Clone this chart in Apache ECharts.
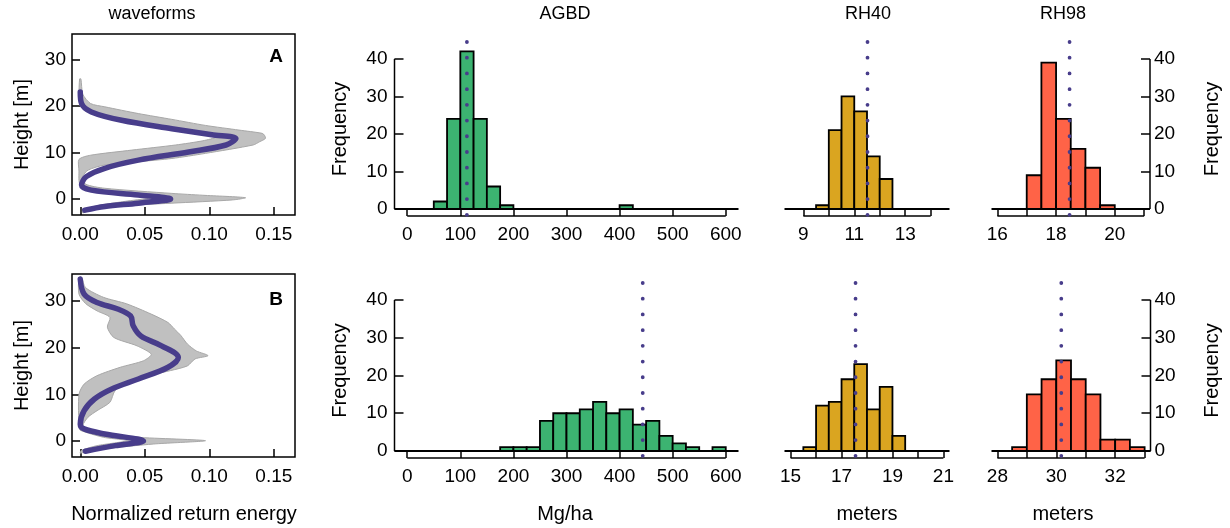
<!DOCTYPE html>
<html><head><meta charset="utf-8">
<script src="https://cdn.jsdelivr.net/npm/echarts@6/dist/echarts.min.js"></script>
<style>html,body{margin:0;padding:0;background:#fff}#c{width:1230px;height:528px}</style>
</head><body><div id="c"></div>
<script>
// ---------- DATA ----------
// Waveform panel A: mean waveform (height m, normalized energy)
const waveA_meanHeight = [-2.4,-1.6,-0.9,0.0,0.86,1.9,3.0,4.8,6.6,8.35,10.1,11.6,13.0,13.8,15.1,16.9,18.7,20.5,23.0];
const waveA_meanEnergy = [0.0035,0.019,0.045,0.070,0.045,0.0086,0.001,0.0047,0.019,0.045,0.084,0.113,0.1206,0.102,0.071,0.032,0.0086,0.001,0.0];
// Waveform panel A: envelope of individual waveforms (closed outline)
const waveA_envHeight = [-3.0,-2.2,-1.6,-0.9,-0.2,0.28,0.8,1.2,2.3,3.2,4.8,6.2,7.3,8.0,8.7,9.8,11.6,12.3,13.0,13.7,14.1,14.8,15.8,17.1,18.35,19.8,20.5,22.5,25.8,
                         25.8,22.0,20.0,19.0,18.0,16.9,15.5,14.1,13.3,12.5,11.6,10.5,9.4,8.5,6.0,4.0,3.0,2.0,1.0,0.3,-0.5,-1.5,-2.5];
const waveA_envEnergy = [0.002,0.010,0.022,0.071,0.118,0.128,0.095,0.071,0.019,0.004,0.002,0.006,0.019,0.045,0.071,0.097,0.134,0.139,0.1435,0.1427,0.141,0.123,0.097,0.071,0.045,0.019,0.008,0.002,0.0005,
                         -0.0005,-0.001,0.0,0.006,0.020,0.040,0.066,0.094,0.105,0.095,0.074,0.040,0.008,-0.001,-0.001,-0.001,0.0,0.005,0.030,0.055,0.035,0.012,0.002];
// Waveform panel B
const waveB_meanHeight = [-2.2,-1.0,0.0,1.5,2.6,3.6,6.5,9.0,11.1,13.3,15.8,17.9,20.4,22.5,24.7,26.8,28.3,29.7,31.5,34.7];
const waveB_meanEnergy = [0.004,0.027,0.049,0.019,0.003,0.0,0.003,0.011,0.024,0.045,0.068,0.076,0.063,0.047,0.041,0.039,0.029,0.013,0.003,0.0];
const waveB_envHeight = [-2.6,-2.4,-1.7,-0.64,0.07,0.8,1.9,3.3,5.1,6.5,8.3,10.8,12.9,14.3,15.1,16.1,17.6,18.3,19.3,20.8,22.6,24.0,25.4,27.2,29.4,30.8,32.9,35.1,
                         35.1,31.5,29.5,27.9,26.5,24.4,22.2,20.4,18.6,17.2,15.8,14.0,12.2,10.0,3.0,2.3,0.8,0.07,-1.0,-2.0];
const waveB_envEnergy = [0.0,0.003,0.018,0.057,0.097,0.044,0.005,0.002,0.006,0.013,0.023,0.027,0.039,0.057,0.070,0.083,0.089,0.099,0.090,0.083,0.078,0.073,0.068,0.055,0.036,0.018,0.004,0.001,
                         -0.001,-0.001,0.004,0.013,0.023,0.021,0.026,0.044,0.055,0.049,0.031,0.013,0.003,-0.001,-0.001,0.0,0.018,0.036,0.013,0.001];
const waveEnergyTicks = [0, 0.05, 0.10, 0.15];
const waveHeightTicks = [0, 10, 20, 30];

// Histograms (bin left edges and counts)
const agbdBinWidth = 25, rhBinWidth = 0.5;
const agbdA_binLeft = [50,75,100,125,150,175,400];
const agbdA_counts  = [2,24,42,24,6,1,1];
const agbdB_binLeft = [175,200,225,250,275,300,325,350,375,400,425,450,475,500,525,575];
const agbdB_counts  = [1,1,1,8,10,10,11,13,10,11,7,8,4,2,1,1];
const rh40A_binLeft = [9.5,10,10.5,11,11.5,12];
const rh40A_counts  = [1,21,30,26,14,8];
const rh98A_binLeft = [17,17.5,18,18.5,19,19.5];
const rh98A_counts  = [9,39,24,16,11,1];
const rh40B_binLeft = [15.5,16,16.5,17,17.5,18,18.5,19];
const rh40B_counts  = [1,12,13,19,23,11,17,4];
const rh98B_binLeft = [28.5,29,29.5,30,30.5,31,31.5,32,32.5];
const rh98B_counts  = [1,15,19,24,19,15,3,3,1];
// reference values (dotted lines)
const agbdA_ref = 112.4, agbdB_ref = 443.6;
const rh40A_ref = 11.52, rh98A_ref = 18.46, rh40B_ref = 17.55, rh98B_ref = 30.17;
// ticks and labels
const agbdTicks = [0,100,200,300,400,500,600];
const agbdLabels = [0,100,200,300,400,500,600];
const rh40A_ticks = [9,10,11,12,13,14], rh40A_labels = [9,11,13];
const rh98A_ticks = [16,17,18,19,20,21], rh98A_labels = [16,18,20];
const rh40B_ticks = [15,16,17,18,19,20,21], rh40B_labels = [15,17,19,21];
const rh98B_ticks = [28,29,30,31,32,33], rh98B_labels = [28,30,32];
const freqTicks = [0,10,20,30,40];

// ---------- CHART ----------
const FONT = '"Liberation Sans", Arial, Helvetica, sans-serif';
const FS = 19;
const PURPLE = '#483D8B';
const GREEN = '#3CB371', GOLD = '#DAA520', TOMATO = '#FF6347';
const HY = [-1.86, 44.5];

const grids = [
  {left:72, top:34, width:223, height:181},
  {left:72, top:274, width:223, height:183},
  {left:394.5, top:42, width:344, height:174},
  {left:784.5, top:42, width:165, height:174},
  {left:991.5, top:42, width:158.5, height:174},
  {left:394.5, top:283, width:344, height:175},
  {left:784.5, top:283, width:165, height:175},
  {left:991.5, top:283, width:159, height:175}
].map((g,i)=> i<2 ? Object.assign(g,{show:true,borderColor:'#000',borderWidth:1.5,backgroundColor:'transparent'}) : g);

const labelBase = {color:'#000', fontFamily:FONT, fontSize:FS};
const noLine = {show:false, onZero:false};
function waveX(gi){
  return {type:'value', gridIndex:gi, min:-0.0064, max:0.1664, axisLine:noLine, splitLine:{show:false},
    axisTick:{show:true, inside:true, length:8, customValues:waveEnergyTicks, lineStyle:{color:'#000',width:1.5}},
    axisLabel:Object.assign({customValues:waveEnergyTicks, margin:10, formatter:v=>v.toFixed(2)}, labelBase)};
}
function waveY(gi, min, max){
  return {type:'value', gridIndex:gi, min:min, max:max, axisLine:noLine, splitLine:{show:false},
    axisTick:{show:true, inside:true, length:8, customValues:waveHeightTicks, lineStyle:{color:'#000',width:1.5}},
    axisLabel:Object.assign({customValues:waveHeightTicks, margin:6}, labelBase),
    name:'Height [m]', nameLocation:'middle', nameRotate:90, nameGap:40,
    nameTextStyle:{color:'#000', fontFamily:FONT, fontSize:20}};
}
function histX(gi, min, max, ticks, labels){
  return {type:'value', gridIndex:gi, min:min, max:max, axisLine:noLine, splitLine:{show:false},
    axisTick:{show:true, inside:true, length:7, customValues:ticks, lineStyle:{color:'#000',width:1.5}},
    axisLabel:Object.assign({customValues:labels, margin:9}, labelBase)};
}
function histY(gi, pos){
  if (!pos) return {type:'value', gridIndex:gi, min:HY[0], max:HY[1], show:false, axisLine:noLine};
  return {type:'value', gridIndex:gi, min:HY[0], max:HY[1], position:pos, axisLine:noLine, splitLine:{show:false},
    axisTick:{show:true, inside:true, length:9, customValues:freqTicks, lineStyle:{color:'#000',width:1.5}},
    axisLabel:Object.assign({customValues:freqTicks, margin: pos==='left'?7:4}, labelBase),
    name:'Frequency', nameLocation:'middle', nameRotate:90, nameGap: pos==='left'?44:52,
    nameTextStyle:{color:'#000', fontFamily:FONT, fontSize:20}};
}

const xAxes = [
  waveX(0), waveX(1),
  histX(2,-24,624,agbdTicks,agbdLabels),
  histX(3,8.26,14.74,rh40A_ticks,rh40A_labels),
  histX(4,15.8,21.2,rh98A_ticks,rh98A_labels),
  histX(5,-24,624,agbdTicks,agbdLabels),
  histX(6,14.76,21.24,rh40B_ticks,rh40B_labels),
  histX(7,27.8,33.2,rh98B_ticks,rh98B_labels)
];
const yAxes = [
  waveY(0,-3.44,35.44), waveY(1,-3.43,35.8),
  histY(2,'left'), histY(3,null), histY(4,'right'),
  histY(5,'left'), histY(6,null), histY(7,'right')
];

const series = [];
function line(gi, pts, style, z){
  series.push({type:'line', xAxisIndex:gi, yAxisIndex:gi, data:pts, symbol:'none', silent:true, clip:false,
    lineStyle:style, z:z||3, animation:false});
}
function envelope(gi, en, hs){
  series.push({type:'custom', xAxisIndex:gi, yAxisIndex:gi, data:[[0,0]], silent:true, z:2,
    renderItem:function(params, api){
      const pts = en.map((e,i)=>api.coord([e, hs[i]]));
      return {type:'polygon', shape:{points:pts, smooth:0.25},
        style:{fill:'#C0C0C0', stroke:'#A8A8A8', lineWidth:1}};
    }});
}
function mean(gi, en, hs){
  line(gi, en.map((e,i)=>[e, hs[i]]), {color:PURPLE, width:5.5, cap:'round', join:'round'}, 4);
  series[series.length-1].smooth = 0.35;
}
envelope(0, waveA_envEnergy, waveA_envHeight); mean(0, waveA_meanEnergy, waveA_meanHeight);
envelope(1, waveB_envEnergy, waveB_envHeight); mean(1, waveB_meanEnergy, waveB_meanHeight);

function hist(gi, binLeft, counts, width, color, xr, ticks, ref, yAxisSide){
  series.push({type:'custom', xAxisIndex:gi, yAxisIndex:gi, silent:true, z:2,
    data: binLeft.map((b,i)=>[b, b+width, counts[i]]),
    renderItem:function(params, api){
      const p0 = api.coord([api.value(0), api.value(2)]);
      const p1 = api.coord([api.value(1), 0]);
      return {type:'rect', shape:{x:p0[0], y:p0[1], width:p1[0]-p0[0], height:p1[1]-p0[1]},
        style:{fill:color, stroke:'#000', lineWidth:1.8}};
    }});
  // zero baseline across plot region
  line(gi, [[xr[0],0],[xr[1],0]], {color:'#000', width:1.8}, 3);
  // R-style x axis line spanning first..last tick at bottom of plot region
  line(gi, [[ticks[0],HY[0]],[ticks[ticks.length-1],HY[0]]], {color:'#000', width:1.4}, 3);
  // y axis line 0..40
  if (yAxisSide==='left') line(gi, [[xr[0],0],[xr[0],40]], {color:'#000', width:1.5}, 3);
  if (yAxisSide==='right') line(gi, [[xr[1],0],[xr[1],40]], {color:'#000', width:1.5}, 3);
  // dotted reference line
  line(gi, [[ref,HY[1]],[ref,HY[0]]], {color:PURPLE, width:3.8, type:[0.01,15.7], cap:'round'}, 5);
}
hist(2, agbdA_binLeft, agbdA_counts, agbdBinWidth, GREEN, [-24,624], agbdTicks, agbdA_ref, 'left');
hist(3, rh40A_binLeft, rh40A_counts, rhBinWidth, GOLD, [8.26,14.74], rh40A_ticks, rh40A_ref, null);
hist(4, rh98A_binLeft, rh98A_counts, rhBinWidth, TOMATO, [15.8,21.2], rh98A_ticks, rh98A_ref, 'right');
hist(5, agbdB_binLeft, agbdB_counts, agbdBinWidth, GREEN, [-24,624], agbdTicks, agbdB_ref, 'left');
hist(6, rh40B_binLeft, rh40B_counts, rhBinWidth, GOLD, [14.76,21.24], rh40B_ticks, rh40B_ref, null);
hist(7, rh98B_binLeft, rh98B_counts, rhBinWidth, TOMATO, [27.8,33.2], rh98B_ticks, rh98B_ref, 'right');

function txt(t, x, y, opts){
  return {type:'text', x:x, y:y, silent:true, z:10,
    style:{text:t, align:'center', verticalAlign:'middle', fill:'#000', font: (opts&&opts.font) || ('18px '+FONT)}};
}
const graphics = [
  txt('waveforms',152,14), txt('AGBD',565,14), txt('RH40',868,14), txt('RH98',1063,14),
  txt('A',276,57,{font:'bold 19px '+FONT}), txt('B',276,300,{font:'bold 19px '+FONT}),
  txt('Normalized return energy',184,514,{font:'20px '+FONT}),
  txt('Mg/ha',565,514,{font:'20px '+FONT}), txt('meters',867,514,{font:'20px '+FONT}), txt('meters',1063,514,{font:'20px '+FONT})
];

const chart = echarts.init(document.getElementById('c'), null, {renderer:'canvas'});
chart.setOption({animation:false, backgroundColor:'#fff', grid:grids, xAxis:xAxes, yAxis:yAxes, series:series, graphic:graphics});
</script></body></html>
